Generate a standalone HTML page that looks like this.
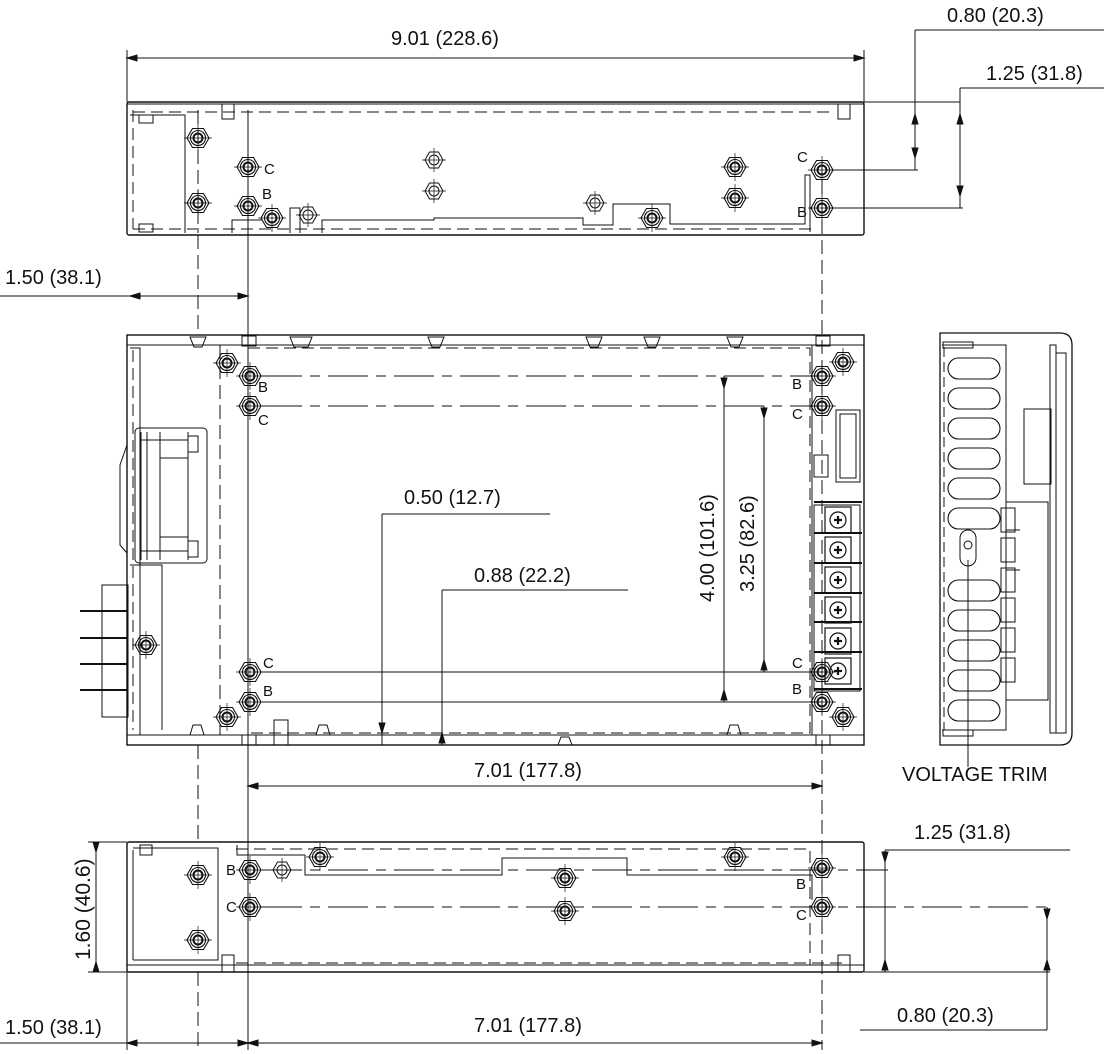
<!DOCTYPE html>
<html><head><meta charset="utf-8"><style>
html,body{margin:0;padding:0;background:#fff;}
svg{display:block;}
text{font-family:"Liberation Sans",sans-serif;font-size:20px;fill:#111;}
.l{font-size:15px;}
</style></head><body>
<svg width="1104" height="1054" viewBox="0 0 1104 1054" xmlns="http://www.w3.org/2000/svg">
<defs>
<g id="nut" fill="none" stroke="#111" stroke-width="1.1">
<polygon points="-11,0 -5.5,-9.5 5.5,-9.5 11,0 5.5,9.5 -5.5,9.5"/>
<circle r="7.5"/><circle r="4.5" stroke-width="2"/>
<line x1="-14" y1="0" x2="14" y2="0" stroke-width=".7"/><line x1="0" y1="-14" x2="0" y2="14" stroke-width=".7"/>
</g>
<g id="hole" fill="none" stroke="#111" stroke-width="1">
<polygon points="-9,0 -4.5,-8 4.5,-8 9,0 4.5,8 -4.5,8"/>
<circle r="5"/>
<line x1="-12" y1="0" x2="12" y2="0" stroke-width=".7"/><line x1="0" y1="-12" x2="0" y2="12" stroke-width=".7"/>
</g>
<g id="term" fill="none" stroke="#111" stroke-width="1.2">
<rect x="-13" y="-13" width="26" height="26"/>
<circle r="8"/><path d="M-4 0H4M0 -4V4" stroke-width="2.2"/>
</g>
<g id="slot" fill="none" stroke="#111" stroke-width="1.1">
<rect x="0" y="0" width="52" height="21" rx="10.5"/>
</g>
</defs>

<g fill="none" stroke="#111" stroke-width="1">
<rect x="127" y="102" width="737" height="133" rx="2" stroke-width="1.4"/>
<line x1="127" y1="104" x2="864" y2="104" stroke-width="1"/>
<path d="M133 112H835" stroke-dasharray="12,6"/>
<path d="M133 229H812" stroke-dasharray="12,6"/>
<path d="M133 110V229" stroke-dasharray="12,6"/>
<path d="M130 115H185V233"/>
<path d="M198 110V233" stroke-dasharray="14,6"/>
<path d="M232 233V220H262M290 233V208H300V233M322 233V220H434V218H583V225H613V204H670V224H805V175H810V232"/>
<rect x="139" y="115" width="14" height="8"/><rect x="139" y="224" width="14" height="8"/>
<rect x="222" y="104" width="12" height="15"/><rect x="838" y="104" width="12" height="15"/>
<path d="M127 50V102M864 50V102"/>
<path d="M127 58H864"/>
<path d="M864 102H960M830 170H918M830 208H963"/>
<path d="M915 30H1104M915 30V170M960 88H1104M960 88V208"/>
<path d="M915 158l-3 -10h6z M915 114l-3 10h6z M960 196l-3 -10h6z M960 114l-3 10h6z" fill="#111"/>
<path d="M127 58l10 -3v6z M864 58l-10 -3v6z" fill="#111"/>

<path d="M198 235V330M198 745V845M198 972V1050" stroke-dasharray="14,6"/>
<path d="M248 110V1050"/>
<path d="M822 160V1050" stroke-dasharray="14,6"/>

<rect x="127" y="335" width="737" height="410" stroke-width="1.4"/>
<line x1="127" y1="345" x2="864" y2="345"/>
<line x1="127" y1="735" x2="864" y2="735"/>
<path d="M133 350V730" stroke-dasharray="12,6"/>
<path d="M130 348H140V735"/>
<path d="M220 345V735" stroke-dasharray="14,6"/>
<rect x="248" y="348" width="562" height="385" stroke-dasharray="12,6"/>
<path d="M812 345V735"/>
<rect x="135" y="428" width="72" height="135" rx="4"/>
<path d="M141 432V560M147 432V560M160 432V560M188 432V560M141 440H188M141 551H188M160 458H188M160 537H188"/>
<rect x="188" y="436" width="10" height="16"/><rect x="188" y="541" width="10" height="16"/>
<path d="M127 445L120 465V545L127 553"/>
<path d="M130 565H162V730"/>
<rect x="102" y="585" width="26" height="132"/>
<path d="M80 611H128M80 638H128M80 664H128M80 690H128" stroke-width="2"/>
<rect x="836" y="410" width="24" height="72"/><rect x="840" y="414" width="16" height="64"/>
<rect x="814" y="455" width="14" height="22"/>
<rect x="814" y="505" width="46" height="186"/>
<path d="M814 502H862M814 533H862M814 563H862M814 593H862M814 622H862M814 652H862M814 689H862" stroke-width="2"/>
<path d="M262 376H822M262 406H822M262 672H822M262 702H822" stroke-dasharray="40,8,10,8"/>
<path d="M295 672H822M295 702H822"/>
<path d="M724 376V702M764 406V672"/>
<path d="M724 388l-3 -10h6zM724 690l-3 10h6zM764 418l-3 -10h6zM764 660l-3 10h6z" fill="#111"/>
<path d="M382 514H550M382 514V745M442 590H628M442 590V745"/>
<path d="M382 733l-3 -10h6zM442 733l-3 10h6z" fill="#111"/>
<g stroke-width="1">
<path d="M190 337h16l-4 10h-8zM428 337h16l-4 10h-8zM586 337h16l-4 10h-8zM644 337h16l-4 10h-8zM727 337h16l-4 10h-8zM290 337h22l-4 10h-14z"/>
<rect x="242" y="336" width="14" height="10"/><rect x="816" y="336" width="14" height="10"/>
<rect x="242" y="735" width="14" height="10"/><rect x="816" y="735" width="14" height="10"/>
<rect x="274" y="720" width="14" height="25"/>
<path d="M190 735h14l-3 -10h-8zM316 735h14l-3 -10h-8zM558 745h14l-3 -8h-8zM727 735h14l-3 -10h-8z"/>
</g>
<path d="M248 786H822"/><path d="M248 786l10 -3v6zM822 786l-10 -3v6z" fill="#111"/>
<path d="M0 296H248"/><path d="M130 296l10 -3v6zM248 296l-10 -3v6z" fill="#111"/>

<path d="M940 333H1060Q1072 333 1072 345V733Q1072 745 1060 745H940Z" stroke-width="1.3"/>
<path d="M942 345H1006V730H942"/>
<path d="M944 347V730" stroke-dasharray="10,5"/>
<rect x="943" y="342" width="30" height="6"/><rect x="943" y="730" width="30" height="6"/>
<rect x="1050" y="345" width="6" height="388"/>
<path d="M1056 353H1066V733H1056"/>
<rect x="1024" y="409" width="27" height="75"/>
<path d="M1006 502H1048V700H1006V695M1006 508V502"/>
<path d="M1020 530H1006V570H1020"/>
<path d="M968 767V560"/>
<rect x="960" y="530" width="16" height="36" rx="8"/>
<circle cx="968" cy="545" r="4"/>

<rect x="127" y="842" width="737" height="130" rx="2" stroke-width="1.4"/>
<line x1="127" y1="965" x2="864" y2="965"/>
<path d="M133 850V960"/>
<path d="M133 848H218V960H133"/>
<path d="M236 849H810V965" stroke-dasharray="12,6"/>
<path d="M236 963H848" stroke-dasharray="12,6"/>
<path d="M237 845V855H305V875H502V858H627V875H812V900"/>
<path d="M262 870H888M262 907H1050" stroke-dasharray="40,8,10,8"/>
<rect x="140" y="845" width="12" height="10"/><rect x="222" y="955" width="12" height="17"/><rect x="838" y="955" width="12" height="17"/>
<path d="M96 842V972"/>
<path d="M96 852l-3 -10h6zM96 962l-3 10h6z" fill="#111"/>
<path d="M88 842H127M88 972H127"/>
<path d="M864 972H1050"/>
<path d="M885 850H1070M885 850V972M1047 907V1030M860 1030H1047"/>
<path d="M885 862l-3 -10h6zM885 960l-3 10h6zM1047 919l-3 -10h6zM1047 960l-3 10h6z" fill="#111"/>
<path d="M127 972V1050M0 1043H248M248 1043H822"/>
<path d="M127 1043l10 -3v6zM248 1043l-10 -3v6zM248 1043l10 -3v6zM822 1043l-10 -3v6z" fill="#111"/>
</g>

<use href="#nut" x="198" y="138"/><use href="#nut" x="198" y="203"/>
<use href="#nut" x="248" y="167"/><use href="#nut" x="248" y="206"/>
<use href="#nut" x="272" y="218"/><use href="#hole" x="308" y="215"/>
<use href="#hole" x="434" y="160"/><use href="#hole" x="434" y="191"/>
<use href="#hole" x="595" y="203"/><use href="#nut" x="652" y="218"/>
<use href="#nut" x="735" y="167"/><use href="#nut" x="735" y="198"/>
<use href="#nut" x="822" y="170"/><use href="#nut" x="822" y="208"/>
<use href="#nut" x="227" y="363"/><use href="#nut" x="250" y="376"/><use href="#nut" x="250" y="406"/>
<use href="#nut" x="250" y="672"/><use href="#nut" x="250" y="702"/><use href="#nut" x="227" y="717"/>
<use href="#nut" x="822" y="376"/><use href="#nut" x="822" y="406"/><use href="#nut" x="843" y="362"/>
<use href="#term" x="838" y="520"/><use href="#term" x="838" y="550"/><use href="#term" x="838" y="580"/>
<use href="#term" x="838" y="610"/><use href="#term" x="838" y="641"/><use href="#term" x="838" y="671"/>
<use href="#nut" x="822" y="672"/><use href="#nut" x="822" y="702"/><use href="#nut" x="843" y="717"/>
<use href="#nut" x="146" y="645"/>
<use href="#nut" x="198" y="875"/><use href="#nut" x="198" y="940"/>
<use href="#nut" x="250" y="870"/><use href="#hole" x="282" y="870"/><use href="#nut" x="320" y="857"/>
<use href="#nut" x="565" y="878"/><use href="#nut" x="565" y="911"/><use href="#nut" x="735" y="857"/>
<use href="#nut" x="250" y="907"/><use href="#nut" x="822" y="868"/><use href="#nut" x="822" y="907"/>
<use href="#slot" x="948" y="358"/><use href="#slot" x="948" y="388"/><use href="#slot" x="948" y="418"/>
<use href="#slot" x="948" y="448"/><use href="#slot" x="948" y="478"/><use href="#slot" x="948" y="508"/>
<use href="#slot" x="948" y="580"/><use href="#slot" x="948" y="610"/><use href="#slot" x="948" y="640"/>
<use href="#slot" x="948" y="670"/><use href="#slot" x="948" y="700"/>
<g fill="none" stroke="#111">
<rect x="1001" y="508" width="14" height="24"/><rect x="1001" y="538" width="14" height="24"/><rect x="1001" y="568" width="14" height="24"/>
<rect x="1001" y="598" width="14" height="24"/><rect x="1001" y="628" width="14" height="24"/><rect x="1001" y="658" width="14" height="24"/>
</g>

<text x="391" y="45">9.01 (228.6)</text>
<text x="947" y="22">0.80 (20.3)</text>
<text x="986" y="80">1.25 (31.8)</text>
<text x="5" y="284">1.50 (38.1)</text>
<text x="404" y="504">0.50 (12.7)</text>
<text x="474" y="582">0.88 (22.2)</text>
<text x="474" y="777">7.01 (177.8)</text>
<text x="902" y="781">VOLTAGE TRIM</text>
<text x="914" y="839">1.25 (31.8)</text>
<text x="897" y="1022">0.80 (20.3)</text>
<text x="474" y="1032">7.01 (177.8)</text>
<text x="5" y="1034">1.50 (38.1)</text>
<text transform="translate(714,602) rotate(-90)">4.00 (101.6)</text>
<text transform="translate(754,592) rotate(-90)">3.25 (82.6)</text>
<text transform="translate(90,960) rotate(-90)" style="font-size:21px">1.60 (40.6)</text>
<text class="l" x="264" y="174">C</text><text class="l" x="262" y="199">B</text>
<text class="l" x="797" y="162">C</text><text class="l" x="797" y="217">B</text>
<text class="l" x="258" y="392">B</text><text class="l" x="258" y="425">C</text>
<text class="l" x="263" y="668">C</text><text class="l" x="263" y="696">B</text>
<text class="l" x="792" y="389">B</text><text class="l" x="792" y="419">C</text>
<text class="l" x="792" y="668">C</text><text class="l" x="792" y="694">B</text>
<text class="l" x="226" y="875">B</text><text class="l" x="226" y="912">C</text>
<text class="l" x="796" y="889">B</text><text class="l" x="796" y="920">C</text>
</svg>
</body></html>
